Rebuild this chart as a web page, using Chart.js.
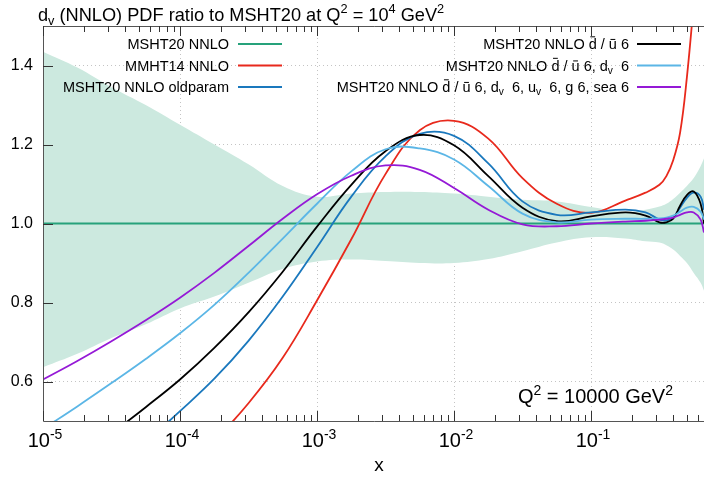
<!DOCTYPE html>
<html>
<head>
<meta charset="utf-8">
<script src="https://cdn.jsdelivr.net/npm/chart.js@4.4.1/dist/chart.umd.min.js"></script>
<style>
  html, body { margin: 0; padding: 0; background: #fff; }
  #wrap { width: 704px; height: 477px; }
</style>
</head>
<body>
<div id="wrap"><canvas id="pdfChart" width="704" height="477"></canvas></div>
<script>
// x grid shared by all curves
const xValues = [1e-5, 1.78e-5, 3.16e-5, 5.62e-5, 1e-4, 1.78e-4, 3.16e-4, 5.62e-4, 1e-3, 1.78e-3, 3.16e-3, 5.62e-3,
  0.01, 0.0178, 0.0316, 0.0562, 0.1, 0.178, 0.25, 0.316, 0.355, 0.398, 0.447, 0.501, 0.562, 0.631, 0.668];

const bandHigh = [1.435, 1.395, 1.345, 1.3, 1.25, 1.2, 1.15, 1.095, 1.068, 1.076, 1.08, 1.08, 1.076, 1.068, 1.06, 1.056,
  1.042, 1.03, 1.035, 1.043, 1.05, 1.062, 1.078, 1.095, 1.115, 1.145, 1.165];
const bandLow = [0.636, 0.67, 0.71, 0.745, 0.785, 0.815, 0.85, 0.885, 0.904, 0.909, 0.905, 0.9, 0.9, 0.91, 0.93, 0.952,
  0.965, 0.962, 0.955, 0.952, 0.945, 0.934, 0.918, 0.9, 0.875, 0.85, 0.83];
const msht20 = xValues.map(() => 1.0);
const mmht14 = [0.14, 0.19, 0.24, 0.3, 0.37, 0.45, 0.545, 0.66, 0.805, 0.96, 1.125, 1.236, 1.26, 1.215, 1.115, 1.05,
  1.027, 1.058, 1.078, 1.098, 1.12, 1.16, 1.23, 1.37, 1.56, 1.8, 1.95];
const oldparam = [0.23, 0.3, 0.372, 0.447, 0.525, 0.607, 0.703, 0.815, 0.94, 1.068, 1.17, 1.227, 1.222, 1.152, 1.056, 1.022,
  1.028, 1.035, 1.028, 1.01, 1.008, 1.015, 1.04, 1.065, 1.078, 1.068, 1.035];
const dbarUbar6 = [0.34, 0.403, 0.468, 0.535, 0.605, 0.685, 0.775, 0.878, 0.992, 1.098, 1.183, 1.224, 1.198, 1.12, 1.04, 1.006,
  1.018, 1.028, 1.02, 1.003, 1.003, 1.012, 1.045, 1.072, 1.081, 1.05, 1.0];
const dbarUbarDv6 = [0.48, 0.537, 0.596, 0.657, 0.722, 0.794, 0.875, 0.962, 1.05, 1.132, 1.188, 1.19, 1.162, 1.095, 1.025, 1.003,
  1.01, 1.012, 1.012, 1.013, 1.015, 1.02, 1.03, 1.04, 1.042, 1.03, 1.01];
const allSix = [0.605, 0.652, 0.702, 0.755, 0.812, 0.875, 0.943, 1.012, 1.074, 1.121, 1.147, 1.136, 1.09, 1.035, 0.998, 0.993,
  1.0, 1.005, 1.007, 1.01, 1.012, 1.015, 1.022, 1.028, 1.028, 1.01, 0.977];

const xDecades = [1e-5, 1e-4, 1e-3, 1e-2, 1e-1];
const xTickLabels = ['-5', '-4', '-3', '-2', '-1'];
const yTicks = [0.6, 0.8, 1.0, 1.2, 1.4];

const FONT = '"Liberation Sans", Arial, sans-serif';
const colors = {
  band: '#cce9df',
  msht20: '#26a27b',
  mmht14: '#e8291c',
  oldparam: '#1a78bd',
  dbar: '#000000',
  dbarDv: '#5bb6e6',
  all: '#9519d6'
};

function pts(arr) {
  return xValues.map((x, i) => ({ x: x, y: arr[i] }));
}

// rich text: [text, kind] with kind '', 'sup', 'sub', 'barHi', 'barLo'
function drawRich(ctx, parts, x, y, size, align) {
  const small = size * 0.7;
  const sizeOf = (k) => (k === 'sup' || k === 'sub') ? small : size;
  let w = 0;
  parts.forEach(([t, k]) => {
    ctx.font = sizeOf(k) + 'px ' + FONT;
    w += ctx.measureText(t).width;
  });
  let cx = align === 'right' ? x - w : align === 'center' ? x - w / 2 : x;
  ctx.textAlign = 'left';
  ctx.textBaseline = 'alphabetic';
  parts.forEach(([t, k]) => {
    ctx.font = sizeOf(k) + 'px ' + FONT;
    const dy = k === 'sup' ? -size * 0.42 : k === 'sub' ? size * 0.22 : 0;
    ctx.fillText(t, cx, y + dy);
    const tw = ctx.measureText(t).width;
    if (k === 'barHi' || k === 'barLo') {
      const by = y - size * (k === 'barHi' ? 0.84 : 0.66);
      ctx.save();
      ctx.strokeStyle = ctx.fillStyle;
      ctx.lineWidth = 1;
      ctx.beginPath();
      ctx.moveTo(cx + tw * 0.2, by);
      ctx.lineTo(cx + tw * 0.8, by);
      ctx.stroke();
      ctx.restore();
    }
    cx += tw;
  });
}

const dbarUbar = [['d', 'barHi'], [' / ', ''], ['u', 'barLo'], [' 6', '']];
const legendLeft = [
  { key: 'msht20', parts: [['MSHT20 NNLO', '']] },
  { key: 'mmht14', parts: [['MMHT14 NNLO', '']] },
  { key: 'oldparam', parts: [['MSHT20 NNLO oldparam', '']] }
];
const legendRight = [
  { key: 'dbar', parts: [['MSHT20 NNLO ', ''], ...dbarUbar] },
  { key: 'dbarDv', parts: [['MSHT20 NNLO ', ''], ...dbarUbar, [', d', ''], ['v', 'sub'], ['  6', '']] },
  { key: 'all', parts: [['MSHT20 NNLO ', ''], ...dbarUbar, [', d', ''], ['v', 'sub'], ['  6, u', ''], ['v', 'sub'], ['  6, g 6, sea 6', '']] }
];
const legendRows = [44, 65.5, 87];

const decorPlugin = {
  id: 'decor',
  afterDatasetsDraw(chart) {
    const ctx = chart.ctx;
    const area = chart.chartArea;
    const xs = chart.scales.x;
    const ys = chart.scales.y;
    ctx.save();
    // frame
    ctx.strokeStyle = '#555';
    ctx.lineWidth = 1;
    ctx.beginPath();
    ctx.moveTo(area.right + 5, Math.round(area.top) + 0.5);
    ctx.lineTo(Math.round(area.left) + 0.5, Math.round(area.top) + 0.5);
    ctx.lineTo(Math.round(area.left) + 0.5, Math.round(area.bottom) + 0.5);
    ctx.lineTo(area.right + 5, Math.round(area.bottom) + 0.5);
    ctx.stroke();
    // x ticks, major and minor, bottom and top
    ctx.strokeStyle = '#333';
    ctx.beginPath();
    for (let d = 1e-5; d < 1; d *= 10) {
      for (let m = 1; m < 10; m++) {
        const v = d * m;
        if (v > xs.max) break;
        const px = Math.round(xs.getPixelForValue(v)) + 0.5;
        const len = m === 1 ? 10 : 6;
        ctx.moveTo(px, area.bottom);
        ctx.lineTo(px, area.bottom - len);
        ctx.moveTo(px, area.top);
        ctx.lineTo(px, area.top + len);
      }
    }
    yTicks.forEach((v) => {
      const py = Math.round(ys.getPixelForValue(v)) + 0.5;
      ctx.moveTo(area.left, py);
      ctx.lineTo(area.left + 10, py);
    });
    ctx.stroke();
    ctx.restore();
  },
  afterDraw(chart) {
    const ctx = chart.ctx;
    const xs = chart.scales.x;
    ctx.save();
    ctx.fillStyle = '#000';
    // title
    drawRich(ctx, [['d', ''], ['v', 'sub'], [' (NNLO) PDF ratio to MSHT20 at Q', ''], ['2', 'sup'], [' = 10', ''], ['4', 'sup'], [' GeV', ''], ['2', 'sup']], 38, 21, 18.2, 'left');
    // x tick labels
    xDecades.forEach((v, i) => {
      drawRich(ctx, [['10', ''], [xTickLabels[i], 'sup']], xs.getPixelForValue(v) + 2, 447, 20, 'center');
    });
    // axis title
    drawRich(ctx, [['x', '']], 379, 471, 19, 'center');
    // Q2 label
    drawRich(ctx, [['Q', ''], ['2', 'sup'], [' = 10000 GeV', ''], ['2', 'sup']], 673, 403, 20, 'right');
    // legend
    const drawCol = (items, textRight, x0, x1) => {
      items.forEach((it, i) => {
        const y = legendRows[i];
        ctx.fillStyle = '#000';
        drawRich(ctx, it.parts, textRight, y + 5, 14.5, 'right');
        ctx.strokeStyle = colors[it.key];
        ctx.lineWidth = 2;
        ctx.beginPath();
        ctx.moveTo(x0, y);
        ctx.lineTo(x1, y);
        ctx.stroke();
      });
    };
    drawCol(legendLeft, 229, 238, 282);
    drawCol(legendRight, 629, 637, 681);
    ctx.restore();
  }
};

function line(label, arr, color, order, width) {
  return {
    label: label,
    data: pts(arr),
    borderColor: color,
    borderWidth: width || 1.8,
    pointRadius: 0,
    fill: false,
    tension: 0.4,
    order: order
  };
}

new Chart(document.getElementById('pdfChart'), {
  type: 'line',
  data: {
    datasets: [
      { label: 'band high', data: pts(bandHigh), borderWidth: 0, pointRadius: 0, backgroundColor: colors.band,
        fill: '+1', tension: 0.4, order: 20 },
      { label: 'band low', data: pts(bandLow), borderWidth: 0, pointRadius: 0, fill: false,
        tension: 0.4, order: 19 },
      line('MSHT20 NNLO', msht20, colors.msht20, 10, 2.2),
      line('MMHT14 NNLO', mmht14, colors.mmht14, 9),
      line('MSHT20 NNLO oldparam', oldparam, colors.oldparam, 8),
      line('MSHT20 NNLO dbar/ubar 6', dbarUbar6, colors.dbar, 7),
      line('MSHT20 NNLO dbar/ubar 6, dv 6', dbarUbarDv6, colors.dbarDv, 6),
      line('MSHT20 NNLO dbar/ubar 6, dv 6, uv 6, g 6, sea 6', allSix, colors.all, 5)
    ]
  },
  options: {
    responsive: false,
    animation: false,
    layout: { padding: { top: 26, right: 0, left: 0, bottom: 0 } },
    plugins: { legend: { display: false }, tooltip: { enabled: false }, title: { display: false } },
    scales: {
      x: {
        type: 'logarithmic',
        min: 1e-5,
        max: 0.668,
        afterBuildTicks: (scale) => { scale.ticks = xDecades.map((v) => ({ value: v })); },
        afterFit: (scale) => { scale.height = 56; },
        ticks: { display: false },
        grid: { color: '#c4c4c4', lineWidth: 1, drawTicks: false },
        border: { display: false, dash: [1, 3] }
      },
      y: {
        min: 0.5,
        max: 1.5,
        afterBuildTicks: (scale) => { scale.ticks = yTicks.map((v) => ({ value: v })); },
        afterFit: (scale) => { scale.width = 43; },
        ticks: { color: '#000', padding: 10, font: { family: FONT, size: 16 }, callback: (v) => Number(v).toFixed(1) },
        grid: { color: '#c4c4c4', lineWidth: 1, drawTicks: false },
        border: { display: false, dash: [1, 3] }
      }
    }
  },
  plugins: [decorPlugin]
});
</script>
</body>
</html>
